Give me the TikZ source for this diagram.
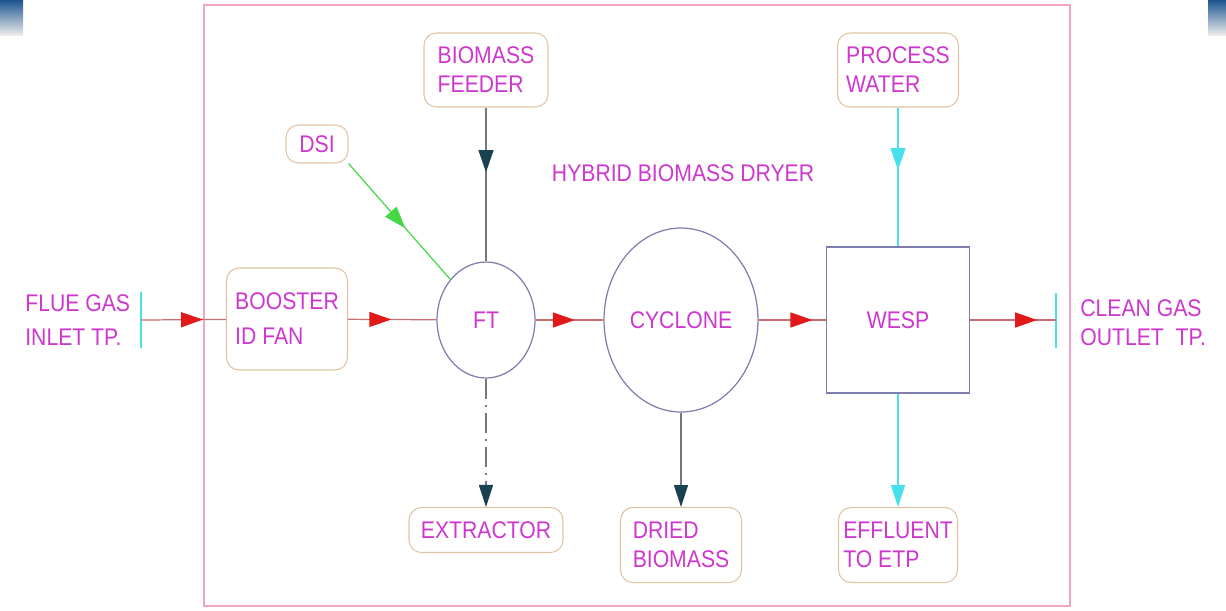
\documentclass[tikz,border=0pt]{standalone}
\usepackage{fontspec}
\setmainfont{Liberation Sans}[FakeStretch=0.88]
\usetikzlibrary{arrows.meta,shapes.geometric,decorations.markings}
\definecolor{labelpink}{RGB}{205,55,205}
\definecolor{framepink}{RGB}{240,165,195}
\definecolor{boxtan}{RGB}{222,195,165}
\definecolor{unitgray}{RGB}{125,125,175}
\definecolor{flowred}{RGB}{225,25,25}
\definecolor{gasline}{RGB}{200,110,110}
\definecolor{solidline}{RGB}{115,120,130}
\definecolor{tipteal}{RGB}{25,65,80}
\definecolor{watercyan}{RGB}{70,225,235}
\definecolor{dsigreen}{RGB}{70,215,70}
\definecolor{slideblue}{RGB}{30,85,145}
\tikzset{
  lbl/.style={text=labelpink,font=\fontsize{13.7}{16.5}\selectfont,align=left,inner sep=0pt},
  tag/.style={lbl,draw=boxtan,line width=0.6pt,rounded corners=0.25cm},
  unit/.style={lbl,draw=unitgray,line width=0.7pt},
  midtip/.style 2 args={postaction={decorate},decoration={markings,
    mark=at position #1 with {\arrow{Triangle[length=0.44cm,width=0.3cm,color=#2]}}}},
  gas/.style={draw=gasline,line width=0.7pt,midtip={#1}{flowred}},
  feed/.style={draw=solidline,line width=0.7pt},
  endtip/.style={-{Triangle[length=0.44cm,width=0.28cm,color=#1]}},
  bar/.style={draw=watercyan,line width=0.9pt}
}
\begin{document}
\begin{tikzpicture}[x=0.02cm,y=-0.02cm]
\useasboundingbox (0,0) rectangle (1226,610);
\shade[top color=slideblue,bottom color=gray!15] (0,0) rectangle (23,35);
\shade[top color=slideblue,bottom color=gray!15] (1208,0) rectangle (1226,35);
\draw[framepink,line width=1.3pt] (204,5) rectangle (1070,606);
\node[lbl] (title) at (683,173) {HYBRID BIOMASS DRYER};
\node[tag,minimum width=2.48cm,minimum height=1.48cm] (feeder) at (486,70) {BIOMASS\\FEEDER};
\node[tag,minimum width=1.24cm,minimum height=0.76cm] (dsi) at (317,144) {DSI};
\node[tag,minimum width=2.42cm,minimum height=1.48cm] (water) at (898,70) {PROCESS\\WATER};
\node[tag,minimum width=2.42cm,minimum height=2.04cm] (booster) at (287,319) {BOOSTER\\[3.5pt]ID FAN};
\node[unit,ellipse,minimum width=1.96cm,minimum height=2.32cm] (ft) at (486,320) {FT};
\node[unit,ellipse,minimum width=3.08cm,minimum height=3.68cm] (cyclone) at (681,320) {CYCLONE};
\node[unit,minimum width=2.86cm,minimum height=2.92cm] (wesp) at (898,320) {WESP};
\node[tag,minimum width=3.08cm,minimum height=0.9cm] (extractor) at (486,530) {EXTRACTOR};
\node[tag,minimum width=2.42cm,minimum height=1.5cm] (dried) at (681,545) {DRIED\\BIOMASS};
\node[tag,minimum width=2.38cm,minimum height=1.5cm] (effluent) at (898,545) {EFFLUENT\\TO ETP};
\node[lbl,anchor=west] (inlettxt) at (25,320) {FLUE GAS\\[2.5pt]INLET TP.};
\node[lbl,anchor=west] (outlettxt) at (1080,323) {CLEAN GAS\\OUTLET\ \ TP.};
\coordinate (inlet) at (141,320);
\coordinate (outlet) at (1056,320);
\draw[bar] (141,292)--(141,348);
\draw[bar] (1056,293)--(1056,348);
\draw[gas=0.73] (inlet) -- (booster);
\draw[gas=0.49] (booster) -- (ft);
\draw[gas=0.58] (ft) -- (cyclone);
\draw[gas=0.8] (cyclone) -- (wesp);
\draw[gas=0.78] (wesp) -- (outlet);
\draw[feed,midtip={0.42}{tipteal}] (feeder) -- (ft);
\draw[draw=dsigreen,line width=0.7pt,midtip={0.56}{dsigreen}] (dsi.south east) -- (ft);
\draw[feed,endtip=tipteal,dash pattern=on 0.4cm off 0.12cm on 0.04cm off 0.12cm] (ft) -- (extractor);
\draw[feed,endtip=tipteal] (cyclone) -- (dried);
\draw[draw=watercyan,line width=0.7pt,midtip={0.45}{watercyan}] (water) -- (wesp);
\draw[draw=watercyan,line width=0.7pt,endtip=watercyan] (wesp) -- (effluent);
\end{tikzpicture}
\end{document}
